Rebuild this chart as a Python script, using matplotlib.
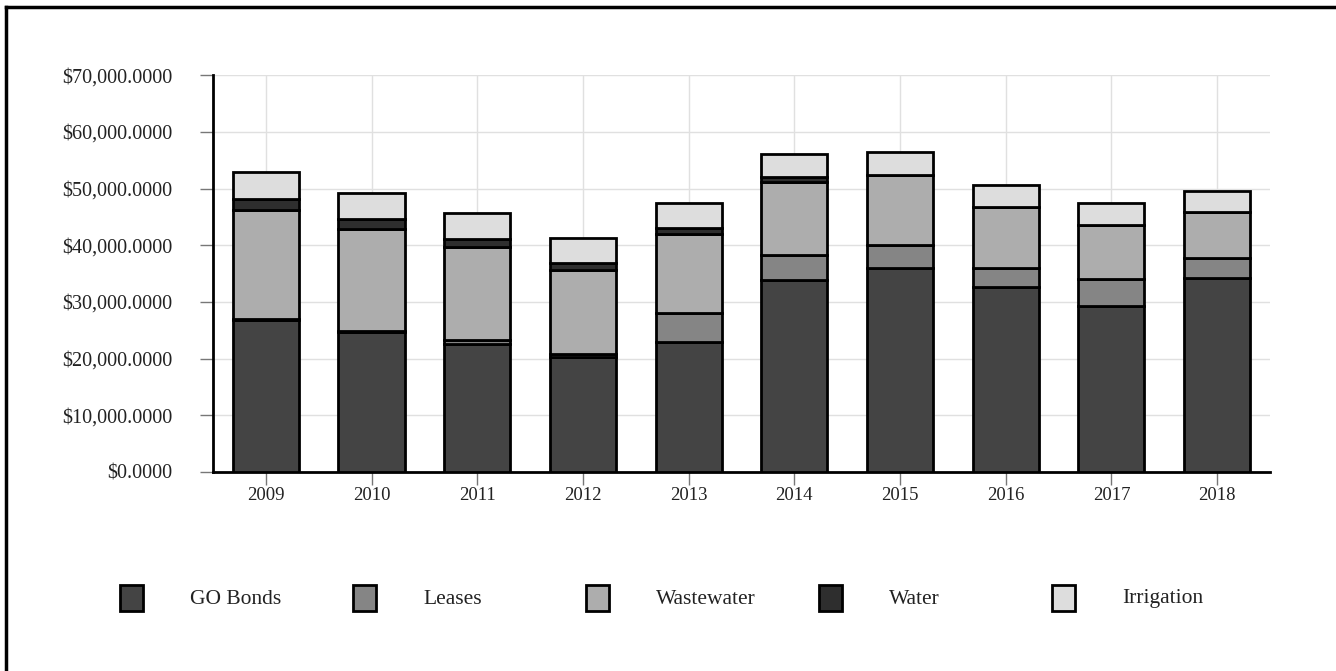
import numpy as np
import matplotlib.pyplot as plt
from matplotlib.patches import Rectangle
from matplotlib.lines import Line2D
from matplotlib.ticker import FuncFormatter

plt.rcParams['font.family'] = ['Liberation Serif', 'DejaVu Serif']

years = ['2009', '2010', '2011', '2012', '2013', '2014', '2015', '2016', '2017', '2018']
go_bonds = [26800, 24700, 22500, 20200, 22900, 33800, 35900, 32700, 29300, 34200]
leases = [200, 200, 700, 600, 5200, 4500, 4200, 3200, 4700, 3500]
wastewater = [19200, 17900, 16500, 14800, 13900, 12800, 12300, 10900, 9600, 8200]
water = [1900, 1800, 1400, 1300, 1100, 900, 0, 0, 0, 0]
irrigation = [4800, 4600, 4600, 4400, 4400, 4100, 4000, 3900, 3800, 3600]

names = ['GO Bonds', 'Leases', 'Wastewater', 'Water', 'Irrigation']
series = [go_bonds, leases, wastewater, water, irrigation]
colors = ['#444444', '#858585', '#adadad', '#2e2e2e', '#dddddd']

fig = plt.figure(figsize=(13.36, 6.71), dpi=100)
ax = fig.add_axes([0.1594, 0.2966, 0.7912, 0.5914])

x = np.arange(len(years))
bottom = np.zeros(len(years))
for vals, col in zip(series, colors):
    vals = np.array(vals, dtype=float)
    ax.bar(x, vals, width=0.625, bottom=bottom, color=col,
           edgecolor='black', linewidth=2, zorder=3)
    bottom += vals

ax.set_xlim(-0.5, 9.5)
ax.set_ylim(0, 70000)
ax.set_yticks(np.arange(0, 70001, 10000))
ax.yaxis.set_major_formatter(FuncFormatter(lambda v, p: '${:,.4f}'.format(v)))
ax.set_xticks(x)
ax.set_xticklabels(years)

ax.grid(True, color='#e0e0e0', linewidth=1, zorder=0)
for s in ['top', 'right']:
    ax.spines[s].set_visible(False)
ax.spines['left'].set_linewidth(2)
ax.spines['bottom'].set_linewidth(2)
ax.tick_params(axis='both', length=9.5, width=1, color='#777777',
               labelcolor='#222222')
ax.tick_params(axis='y', pad=19.5, labelsize=14.5)
ax.tick_params(axis='x', pad=1, labelsize=13.5)

# legend row
W, H = 1336.0, 671.0
for i, (name, col) in enumerate(zip(names, colors)):
    left = 120 + i * 233
    fig.add_artist(Rectangle((left / W, 1 - 611 / H), 23 / W, 26 / H,
                             facecolor=col, edgecolor='black', linewidth=2,
                             transform=fig.transFigure))
    fig.text((left + 70) / W, 1 - 599 / H, name, fontsize=15.5,
             va='center', ha='left', color='#222222')

# outer frame (top and left edges)
fig.add_artist(Line2D([6 / W, 1], [1 - 7 / H, 1 - 7 / H], color='black',
                      linewidth=2.5, transform=fig.transFigure))
fig.add_artist(Line2D([6 / W, 6 / W], [0, 1 - 7 / H], color='black',
                      linewidth=2.5, transform=fig.transFigure))

fig.savefig('out.png', dpi=100)
